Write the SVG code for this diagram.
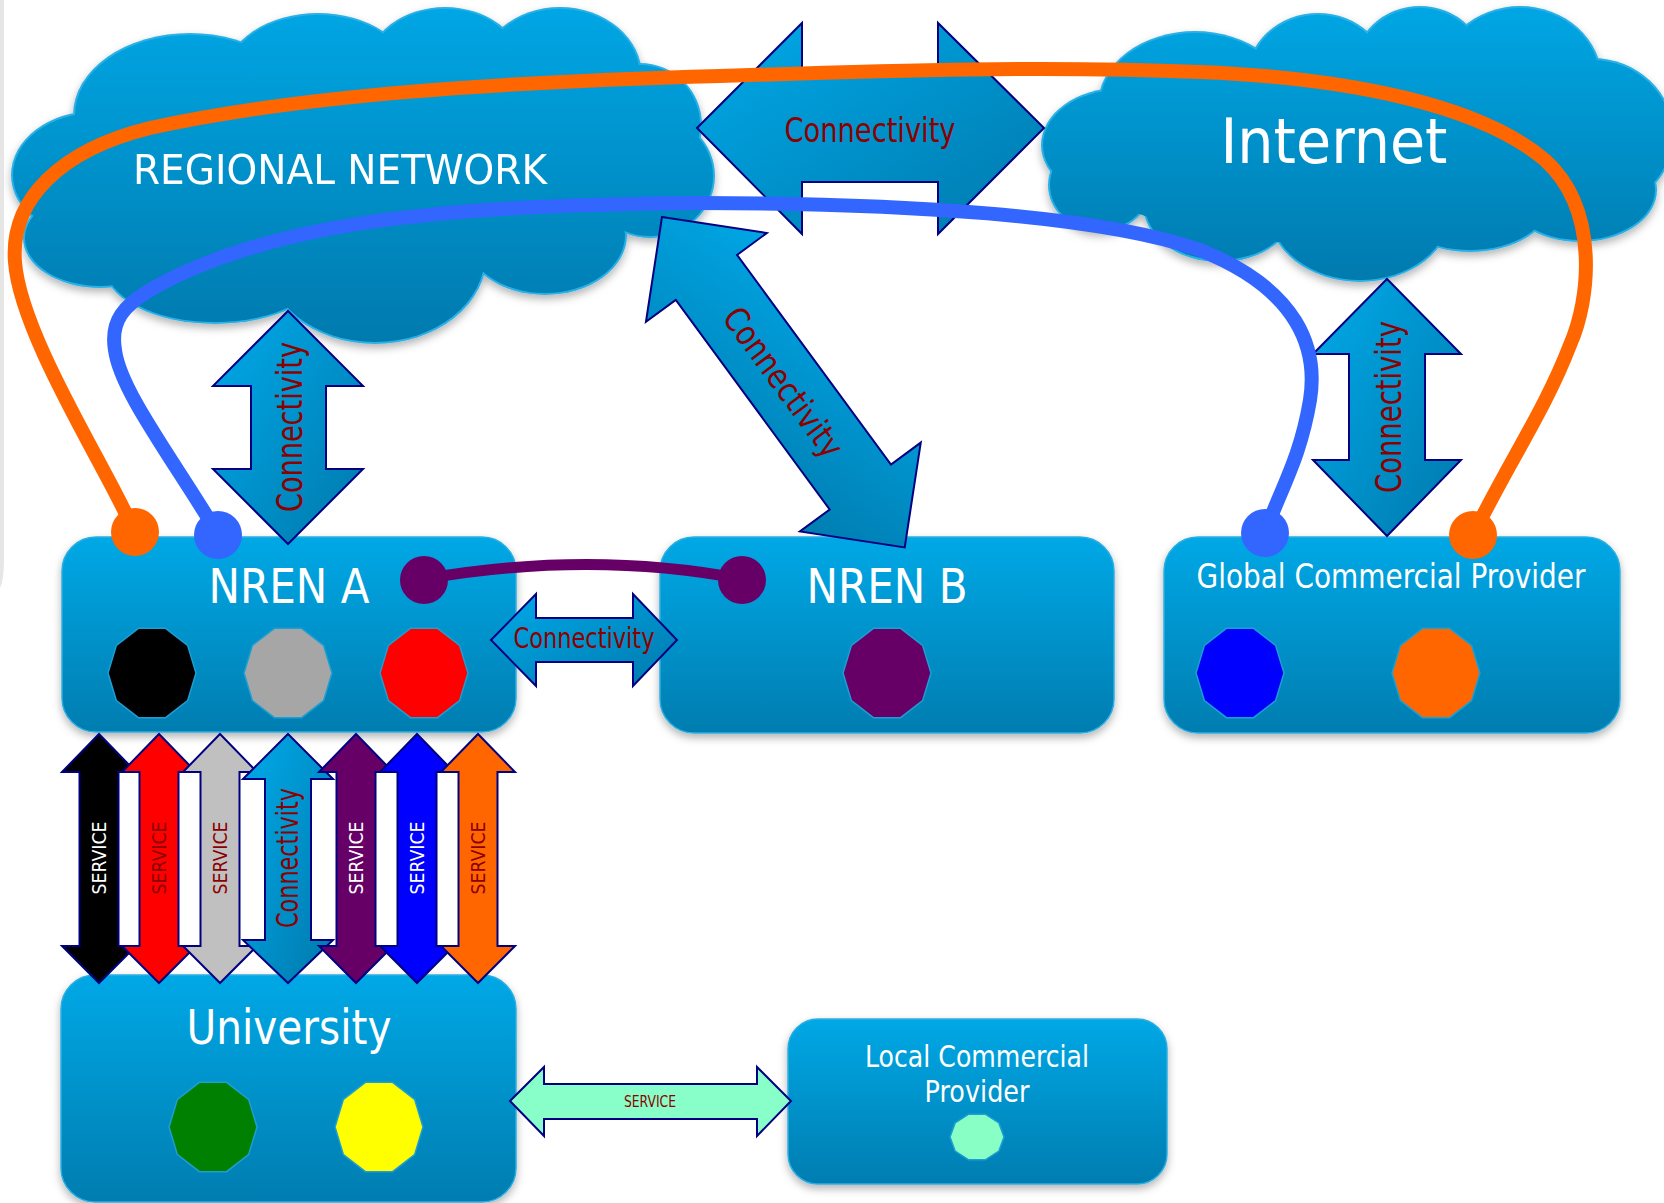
<svg xmlns="http://www.w3.org/2000/svg" xmlns:xlink="http://www.w3.org/1999/xlink" width="1664" height="1203" viewBox="0 0 1664 1203">
<style>
.lbl{font-family:"DejaVu Sans","Verdana",sans-serif;fill:#ffffff}
.con{font-family:"DejaVu Sans","Verdana",sans-serif;fill:#8B0000}
.box{fill:url(#boxGrad);stroke:#2BAEE2;stroke-width:1.5;filter:url(#shadow)}
.arr{fill:url(#arrGrad);stroke:#000080;stroke-width:2}
.svc{stroke:#000080;stroke-width:2}
.deca{stroke:#1E9ED3;stroke-width:1.5}
.cloudfill{fill:url(#cloudGrad)}
.curve{fill:none;stroke-linecap:round}
</style>
<defs>
<linearGradient id="boxGrad" x1="0" y1="0" x2="0" y2="1">
<stop offset="0" stop-color="#00A8E6"/>
<stop offset="1" stop-color="#007DB0"/>
</linearGradient>
<linearGradient id="cloudGrad" x1="0" y1="0" x2="0" y2="1">
<stop offset="0" stop-color="#00A6E4"/>
<stop offset="1" stop-color="#007AAE"/>
</linearGradient>
<linearGradient id="arrGrad" x1="0" y1="0" x2="1" y2="1">
<stop offset="0" stop-color="#00AAEA"/>
<stop offset="1" stop-color="#0079AC"/>
</linearGradient>
<filter id="shadow" x="-10%" y="-10%" width="120%" height="130%">
<feDropShadow dx="0" dy="4" stdDeviation="4" flood-color="#000000" flood-opacity="0.3"/>
</filter>
<polygon id="deca" points="1,0 0.809,0.588 0.309,0.951 -0.309,0.951 -0.809,0.588 -1,0 -0.809,-0.588 -0.309,-0.951 0.309,-0.951 0.809,-0.588" vector-effect="non-scaling-stroke"/>
<path id="svcArrow" d="M0,734 L37,772 L19.5,772 L19.5,946 L37,946 L0,983 L-37,946 L-19.5,946 L-19.5,772 L-37,772 Z"/>
</defs>
<rect x="0" y="0" width="1664" height="1203" fill="#ffffff"/>
<path d="M0,0 L4,0 L4,560 Q4,580 0,588 Z" fill="#E6E6E6"/>

<g id="regional-network" filter="url(#shadow)">
<g fill="#2BB0E6">
<ellipse cx="95" cy="175" rx="84" ry="64"/>
<ellipse cx="190" cy="115" rx="117" ry="82"/>
<ellipse cx="318" cy="75" rx="92" ry="62"/>
<ellipse cx="445" cy="66" rx="77" ry="59"/>
<ellipse cx="560" cy="76" rx="82" ry="69"/>
<ellipse cx="640" cy="125" rx="62" ry="62"/>
<ellipse cx="650" cy="176" rx="65" ry="62"/>
<ellipse cx="545" cy="235" rx="82" ry="60"/>
<ellipse cx="375" cy="255" rx="112" ry="89"/>
<ellipse cx="215" cy="265" rx="112" ry="59"/>
<ellipse cx="100" cy="238" rx="77" ry="50"/>
</g>
<g fill="url(#rgGrad)">
<linearGradient id="rgGrad" gradientUnits="userSpaceOnUse" x1="0" y1="8" x2="0" y2="342">
<stop offset="0" stop-color="#00A6E4"/>
<stop offset="1" stop-color="#007AAE"/>
</linearGradient>
<ellipse cx="95" cy="175" rx="82" ry="62"/>
<ellipse cx="190" cy="115" rx="115" ry="80"/>
<ellipse cx="318" cy="75" rx="90" ry="60"/>
<ellipse cx="445" cy="66" rx="75" ry="57"/>
<ellipse cx="560" cy="76" rx="80" ry="67"/>
<ellipse cx="640" cy="125" rx="60" ry="60"/>
<ellipse cx="650" cy="176" rx="63" ry="60"/>
<ellipse cx="545" cy="235" rx="80" ry="58"/>
<ellipse cx="375" cy="255" rx="110" ry="87"/>
<ellipse cx="215" cy="265" rx="110" ry="57"/>
<ellipse cx="100" cy="238" rx="75" ry="48"/>
<ellipse cx="370" cy="170" rx="290" ry="110"/>
</g>
<text class="lbl" x="340" y="184" font-size="41" text-anchor="middle" textLength="414" lengthAdjust="spacingAndGlyphs">REGIONAL NETWORK</text>
</g>

<g id="internet" filter="url(#shadow)">
<linearGradient id="inGrad" gradientUnits="userSpaceOnUse" x1="0" y1="8" x2="0" y2="281">
<stop offset="0" stop-color="#00A6E4"/>
<stop offset="1" stop-color="#007AAE"/>
</linearGradient>
<g fill="#2BB0E6">
<ellipse cx="1120" cy="145" rx="79" ry="57"/>
<ellipse cx="1195" cy="105" rx="97" ry="74"/>
<ellipse cx="1318" cy="80" rx="72" ry="67"/>
<ellipse cx="1420" cy="70" rx="67" ry="64"/>
<ellipse cx="1520" cy="80" rx="82" ry="74"/>
<ellipse cx="1592" cy="135" rx="82" ry="77"/>
<ellipse cx="1580" cy="190" rx="77" ry="52"/>
<ellipse cx="1470" cy="200" rx="82" ry="52"/>
<ellipse cx="1360" cy="210" rx="92" ry="72"/>
<ellipse cx="1220" cy="205" rx="77" ry="57"/>
<ellipse cx="1100" cy="185" rx="52" ry="47"/>
</g>
<g fill="url(#inGrad)">
<ellipse cx="1120" cy="145" rx="77" ry="55"/>
<ellipse cx="1195" cy="105" rx="95" ry="72"/>
<ellipse cx="1318" cy="80" rx="70" ry="65"/>
<ellipse cx="1420" cy="70" rx="65" ry="62"/>
<ellipse cx="1520" cy="80" rx="80" ry="72"/>
<ellipse cx="1592" cy="135" rx="80" ry="75"/>
<ellipse cx="1580" cy="190" rx="75" ry="50"/>
<ellipse cx="1470" cy="200" rx="80" ry="50"/>
<ellipse cx="1360" cy="210" rx="90" ry="70"/>
<ellipse cx="1220" cy="205" rx="75" ry="55"/>
<ellipse cx="1100" cy="185" rx="50" ry="45"/>
<ellipse cx="1350" cy="150" rx="285" ry="95"/>
</g>
<text class="lbl" x="1334" y="163" font-size="63" text-anchor="middle" textLength="227" lengthAdjust="spacingAndGlyphs">Internet</text>
</g>

<g id="nren-a">
<rect class="box" x="62" y="537" width="454" height="195" rx="34"/>
<text class="lbl" x="289" y="603" font-size="48" text-anchor="middle" textLength="161" lengthAdjust="spacingAndGlyphs">NREN A</text>
<use href="#deca" class="deca" fill="#000000" transform="translate(152,673) scale(44,47)"/>
<use href="#deca" class="deca" fill="#A6A6A6" transform="translate(288,673) scale(44,47)"/>
<use href="#deca" class="deca" fill="#FF0000" transform="translate(424,673) scale(44,47)"/>
</g>

<g id="nren-b">
<rect class="box" x="660" y="537" width="454" height="196" rx="34"/>
<text class="lbl" x="887" y="603" font-size="48" text-anchor="middle" textLength="161" lengthAdjust="spacingAndGlyphs">NREN B</text>
<use href="#deca" class="deca" fill="#660066" transform="translate(887,673) scale(44,47)"/>
</g>

<g id="global-commercial-provider">
<rect class="box" x="1164" y="537" width="456" height="196" rx="34"/>
<text class="lbl" x="1391" y="588" font-size="33" text-anchor="middle" textLength="389" lengthAdjust="spacingAndGlyphs">Global Commercial Provider</text>
<use href="#deca" class="deca" fill="#0000FF" transform="translate(1240,673) scale(44,47)"/>
<use href="#deca" class="deca" fill="#FF6600" transform="translate(1436,673) scale(44,47)"/>
</g>

<g id="university">
<rect class="box" x="61" y="975" width="455" height="227" rx="34"/>
<text class="lbl" x="289" y="1044" font-size="48" text-anchor="middle" textLength="205" lengthAdjust="spacingAndGlyphs">University</text>
<use href="#deca" class="deca" fill="#008000" transform="translate(213,1127) scale(44,47)"/>
<use href="#deca" class="deca" fill="#FFFF00" transform="translate(379,1127) scale(44,47)"/>
</g>

<g id="local-commercial-provider">
<rect class="box" x="788" y="1019" width="379" height="165" rx="30"/>
<text class="lbl" x="977" y="1067" font-size="31" text-anchor="middle" textLength="224" lengthAdjust="spacingAndGlyphs">Local Commercial</text>
<text class="lbl" x="977" y="1102" font-size="31" text-anchor="middle" textLength="105" lengthAdjust="spacingAndGlyphs">Provider</text>
<use href="#deca" class="deca" fill="#88FFC4" transform="translate(977,1137) scale(27,24)"/>
</g>

<g id="connectors">
<g id="conn-regional-internet">
<path class="arr" d="M697,128 L802,23 L802,74 L938,74 L938,23 L1044,128 L938,234 L938,182 L802,182 L802,234 Z"/>
<text class="con" x="870" y="142" font-size="34" text-anchor="middle" textLength="171" lengthAdjust="spacingAndGlyphs">Connectivity</text>
</g>
<g id="conn-regional-nrena">
<path class="arr" d="M288,311 L363,386 L326,386 L326,469 L363,469 L288,544 L213,469 L251,469 L251,386 L213,386 Z"/>
<text class="con" transform="translate(302,427) rotate(-90)" font-size="36" text-anchor="middle" textLength="170" lengthAdjust="spacingAndGlyphs">Connectivity</text>
</g>
<g id="conn-regional-nrenb" transform="translate(662,217) rotate(53.7)">
<path class="arr" d="M0,0 L75,-75 L75,-38 L335,-38 L335,-75 L410,0 L335,75 L335,38 L75,38 L75,75 Z"/>
<text class="con" x="205" y="12" font-size="34" text-anchor="middle" textLength="177" lengthAdjust="spacingAndGlyphs">Connectivity</text>
</g>
<g id="conn-internet-global">
<path class="arr" d="M1387,279 L1461,354 L1425,354 L1425,460 L1461,460 L1387,536 L1313,460 L1349,460 L1349,354 L1313,354 Z"/>
<text class="con" transform="translate(1401,407) rotate(-90)" font-size="36" text-anchor="middle" textLength="172" lengthAdjust="spacingAndGlyphs">Connectivity</text>
</g>
<g id="conn-nrena-nrenb">
<path class="arr" d="M491,640 L536,594 L536,618 L633,618 L633,594 L677,640 L633,686 L633,662 L536,662 L536,686 Z"/>
<text class="con" x="584" y="648" font-size="28" text-anchor="middle" textLength="141" lengthAdjust="spacingAndGlyphs">Connectivity</text>
</g>
<g id="services-nrena-university">
<use href="#svcArrow" class="svc" x="99" fill="#000000"/>
<text class="lbl" transform="translate(106,858) rotate(-90)" font-size="19" text-anchor="middle" textLength="73" lengthAdjust="spacingAndGlyphs">SERVICE</text>
<use href="#svcArrow" class="svc" x="159" fill="#FF0000"/>
<text class="con" transform="translate(166,858) rotate(-90)" font-size="19" text-anchor="middle" textLength="73" lengthAdjust="spacingAndGlyphs">SERVICE</text>
<use href="#svcArrow" class="svc" x="220" fill="#C0C0C0"/>
<text class="con" transform="translate(227,858) rotate(-90)" font-size="19" text-anchor="middle" textLength="73" lengthAdjust="spacingAndGlyphs">SERVICE</text>
<path class="arr" d="M288,734 L333,779 L311,779 L311,940 L333,940 L288,983 L243,940 L265,940 L265,779 L243,779 Z"/>
<text class="con" transform="translate(298,858) rotate(-90)" font-size="30" text-anchor="middle" textLength="140" lengthAdjust="spacingAndGlyphs">Connectivity</text>
<use href="#svcArrow" class="svc" x="356" fill="#660066"/>
<text class="lbl" transform="translate(363,858) rotate(-90)" font-size="19" text-anchor="middle" textLength="73" lengthAdjust="spacingAndGlyphs">SERVICE</text>
<use href="#svcArrow" class="svc" x="417" fill="#0000FF"/>
<text class="lbl" transform="translate(424,858) rotate(-90)" font-size="19" text-anchor="middle" textLength="73" lengthAdjust="spacingAndGlyphs">SERVICE</text>
<use href="#svcArrow" class="svc" x="478" fill="#FF6600"/>
<text class="con" transform="translate(485,858) rotate(-90)" font-size="19" text-anchor="middle" textLength="73" lengthAdjust="spacingAndGlyphs">SERVICE</text>
</g>
<g id="service-university-local">
<path class="svc" fill="#88FFC8" d="M510,1101 L544,1067 L544,1084 L757,1084 L757,1067 L791,1101 L757,1136 L757,1119 L544,1119 L544,1136 Z"/>
<text class="con" x="650" y="1107" font-size="16" text-anchor="middle" textLength="52" lengthAdjust="spacingAndGlyphs">SERVICE</text>
</g>
<g id="paths">
<path class="curve" stroke="#660066" stroke-width="11" d="M424,579 Q590,550 742,579"/>
<ellipse cx="424" cy="580" rx="24" ry="24" fill="#660066"/>
<ellipse cx="742" cy="580" rx="24" ry="24" fill="#660066"/>
<path class="curve" stroke="#3366FF" stroke-width="14" d="M218,534 C170,455 120,390 115,350 C110,320 125,305 150,290 C280,215 480,205 700,203 C900,203 1100,215 1200,250 C1300,290 1318,350 1310,400 C1300,460 1280,490 1265,533"/>
<ellipse cx="218" cy="535" rx="24" ry="24" fill="#3366FF"/>
<ellipse cx="1265" cy="533" rx="24" ry="24" fill="#3366FF"/>
<path class="curve" stroke="#FF6600" stroke-width="14" d="M135,532 L124,510 C95,450 20,330 15,262 C10,200 60,150 150,128 C300,95 500,82 720,76 C900,70 1050,66 1200,72 C1350,78 1480,105 1545,160 C1600,210 1590,300 1570,345 C1545,410 1510,460 1473,535"/>
<ellipse cx="135" cy="532" rx="24" ry="24" fill="#FF6600"/>
<ellipse cx="1473" cy="535" rx="24" ry="24" fill="#FF6600"/>
</g>
</g>
</svg>
